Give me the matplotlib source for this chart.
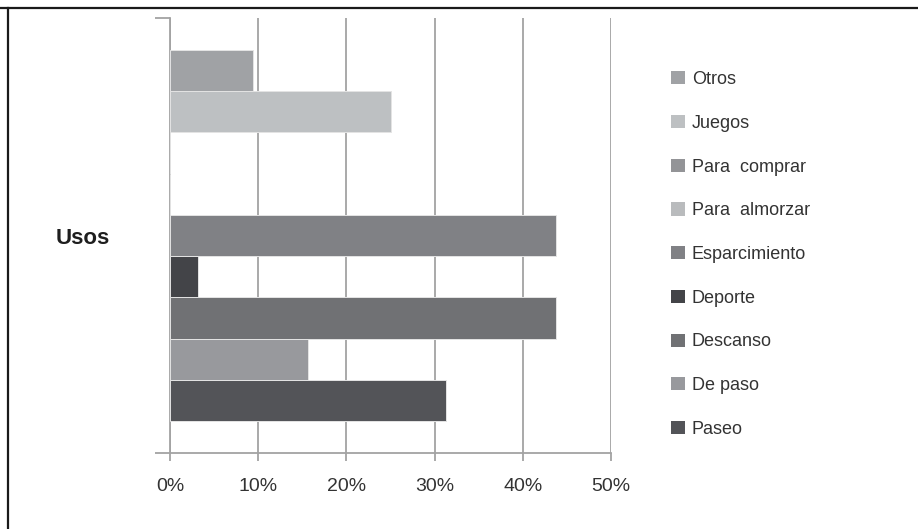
import matplotlib.pyplot as plt
from matplotlib.patches import Patch
from matplotlib.lines import Line2D
from matplotlib.ticker import PercentFormatter

# Data (share of responses, category "Usos")
category = 'Usos'
series = ['Paseo', 'De paso', 'Descanso', 'Deporte', 'Esparcimiento',
          'Para  almorzar', 'Para  comprar', 'Juegos', 'Otros']
values = [0.3125, 0.15625, 0.4375, 0.03125, 0.4375, 0.0, 0.0, 0.25, 0.09375]
colors = ['#535458', '#98999d', '#707174', '#434448', '#808185',
          '#b9bbbd', '#939497', '#bdc0c2', '#a0a2a5']
xticks = [0, 0.1, 0.2, 0.3, 0.4, 0.5]

plt.rcParams['font.family'] = ['Liberation Sans', 'DejaVu Sans']

W, H = 918, 529
fig = plt.figure(figsize=(W / 100, H / 100), dpi=100)
ax = fig.add_axes([170 / W, 1 - 453 / H, (611 - 170) / W, (453 - 18) / H])

# Bars: grouped within the single category
bar_h = 41.3 / 435
n = len(series)
start = -n * bar_h / 2
for i, (name, v, c) in enumerate(zip(series, values, colors)):
    ax.barh(start + bar_h * (i + 0.5), v, height=bar_h, color=c,
            edgecolor='#e4e4e4', linewidth=0.7, zorder=3, label=name)

ax.set_xlim(0, 0.5)
ax.set_ylim(-0.5, 0.5)
ax.set_xticks(xticks)
ax.xaxis.set_major_formatter(PercentFormatter(1.0, decimals=0))
ax.grid(axis='x', color='#a3a3a3', linewidth=1.3, zorder=0)
ax.set_axisbelow(True)

# Y axis: ticks at the category boundaries, label in the middle
ax.set_yticks([-0.5, 0.5])
ax.set_yticklabels(['', ''])
ax.set_yticks([0], labels=[category], minor=True)
ax.tick_params(axis='y', which='major', direction='out', length=11,
               width=1.3, color='#a3a3a3')
ax.tick_params(axis='y', which='minor', length=0, pad=43, labelsize=16,
               labelcolor='#1e1e1e')
for lbl in ax.get_yticklabels(minor=True):
    lbl.set_fontweight('bold')
ax.tick_params(axis='x', direction='out', length=6, width=1.3,
               color='#a3a3a3', pad=12, labelsize=14, labelcolor='#333333')

for s in ['top', 'right']:
    ax.spines[s].set_visible(False)
for s in ['left', 'bottom']:
    ax.spines[s].set_color('#a3a3a3')
    ax.spines[s].set_linewidth(1.3)

# Legend (top entry = last series)
handles = [Patch(facecolor=c, edgecolor='none') for c in colors][::-1]
fig.legend(handles, series[::-1], loc='center left',
           bbox_to_anchor=(671 / W, 1 - 254.5 / H), frameon=False,
           fontsize=13, labelcolor='#333333', handlelength=0.75,
           handleheight=0.75, handletextpad=0.4, labelspacing=1.48,
           borderpad=0, borderaxespad=0)

# Frame lines (top and left only)
fig.add_artist(Line2D([0, 1], [1 - 8 / H, 1 - 8 / H], color='#1a1a1a',
                      linewidth=1.6, transform=fig.transFigure))
fig.add_artist(Line2D([8 / W, 8 / W], [0, 1 - 8 / H], color='#1a1a1a',
                      linewidth=1.6, transform=fig.transFigure))

fig.savefig('out.png', dpi=100)
